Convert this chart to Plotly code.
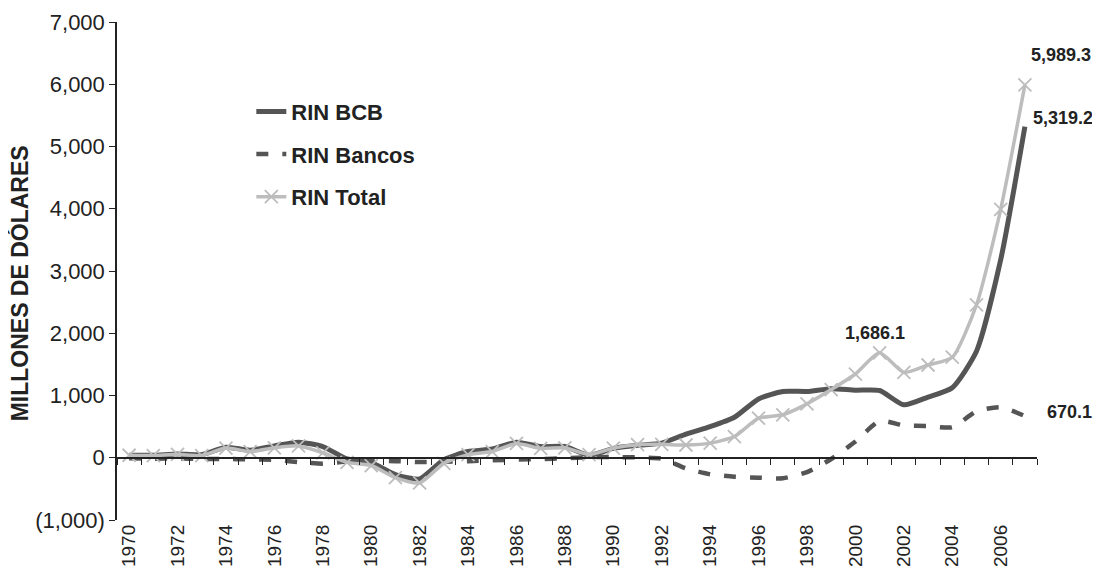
import plotly.graph_objects as go

years = list(range(1970, 2008))

rin_bcb = [40, 40, 60, 50, 170, 120, 190, 250, 180, -20,
           -80, -270, -340, -30, 100, 140, 250, 180, 180, 40,
           150, 200, 235, 380, 500, 650, 945, 1065, 1065, 1110,
           1085, 1080, 850, 975, 1125, 1710, 3180, 5319.2]

rin_bancos = [-10, -15, -10, -20, -20, -25, -35, -70, -95, -60,
              -50, -55, -70, -65, -55, -40, -30, -20, -10, 10,
              10, 5, -15, -170, -265, -305, -320, -330, -230, -20,
              260, 590, 520, 510, 490, 745, 810, 670.1]

rin_total = [40, 35, 55, 35, 155, 100, 160, 190, 80, -75,
             -125, -320, -405, -90, 50, 100, 230, 150, 160, 50,
             155, 210, 215, 205, 235, 340, 635, 690, 865, 1095,
             1345, 1686.1, 1370, 1490, 1615, 2455, 3990, 5989.3]

y_ticks = [-1000, 0, 1000, 2000, 3000, 4000, 5000, 6000, 7000]
y_tick_text = ["(1,000)", "0", "1,000", "2,000", "3,000", "4,000", "5,000", "6,000", "7,000"]
x_label_years = list(range(1970, 2008, 2))

# labelled points: (year, value, xshift, yshift, xanchor)
callouts = [
    (2007, 5989.3, 4, 30, "left"),
    (2007, 5319.2, 6, 9, "left"),
    (2001, 1686.1, -5, 20, "center"),
    (2007, 670.1, 20, 4, "left"),
]

dark = "#555555"
light = "#bdbdbd"
font = "Liberation Sans, Arial, sans-serif"

fig = go.Figure()

fig.add_trace(go.Scatter(
    x=years, y=rin_bcb, name="<b>RIN BCB</b>", mode="lines",
    line=dict(color=dark, width=5, shape="spline", smoothing=0.6),
    legendgroup="a"))

fig.add_trace(go.Scatter(
    x=years, y=rin_bancos, name="<b>RIN Bancos</b>", mode="lines",
    line=dict(color=dark, width=4.5, dash="12px,14px", shape="spline", smoothing=0.6),
    legendgroup="b"))

fig.add_trace(go.Scatter(
    x=years, y=rin_total, name="<b>RIN Total</b>", mode="lines+markers",
    line=dict(color=light, width=3.5, shape="spline", smoothing=0.6),
    marker=dict(symbol="x-thin", size=13, line=dict(color=light, width=1.8)),
    legendgroup="c"))

for yr, val, dx, dy, anchor in callouts:
    fig.add_annotation(
        x=yr, y=val, text=f"<b>{val:,.1f}</b>", showarrow=False,
        xanchor=anchor, yanchor="middle", xshift=dx, yshift=dy,
        font=dict(family=font, size=18, color="#222222"))

# y-axis title placed by hand so the tick labels don't push it off the page
fig.add_annotation(
    text="<b>MILLONES DE DÓLARES</b>", textangle=-90, showarrow=False,
    xref="paper", yref="paper", x=-0.105, y=0.476, xanchor="center", yanchor="middle",
    font=dict(family=font, size=23, color="#222222"))

# page body adds an 8px offset, so the figure is a bit smaller than the window
fig.update_layout(
    width=1092, height=573,
    margin=dict(l=109, r=63, t=14, b=61),
    paper_bgcolor="white", plot_bgcolor="white",
    font=dict(family=font, color="#222222"),
    showlegend=True,
    legend=dict(x=0.146, y=0.862, xanchor="left", yanchor="top",
                font=dict(family=font, size=22, color="#222222"),
                tracegroupgap=11, bgcolor="rgba(0,0,0,0)"),
    xaxis=dict(range=[1969.5, 2007.5], tickmode="array",
               tickvals=x_label_years, ticktext=[str(y) for y in x_label_years],
               tickangle=-90, tickfont=dict(family=font, size=19, color="#222222"),
               showgrid=False, zeroline=False, showline=False, ticks="",
               automargin=False),
    xaxis2=dict(overlaying="x", anchor="free", position=0.125,
                range=[1969.5, 2007.5], tickmode="linear", tick0=1969.5, dtick=1,
                showticklabels=False, ticks="outside", ticklen=6,
                tickcolor="#222222", showline=True, linecolor="#222222",
                linewidth=1.5, showgrid=False, zeroline=False),
    yaxis=dict(range=[-1000, 7000], tickmode="array", tickvals=y_ticks,
               ticktext=y_tick_text, ticks="outside", ticklen=6,
               tickcolor="#222222", showline=True, linecolor="#222222",
               linewidth=1.5, showgrid=False, zeroline=False, automargin=False,
               tickfont=dict(family=font, size=22, color="#222222")),
)

# invisible trace so xaxis2 is drawn
fig.add_trace(go.Scatter(x=[1970], y=[0], xaxis="x2", mode="markers",
                         marker=dict(opacity=0), showlegend=False, hoverinfo="skip"))

fig.write_html("out.html")
